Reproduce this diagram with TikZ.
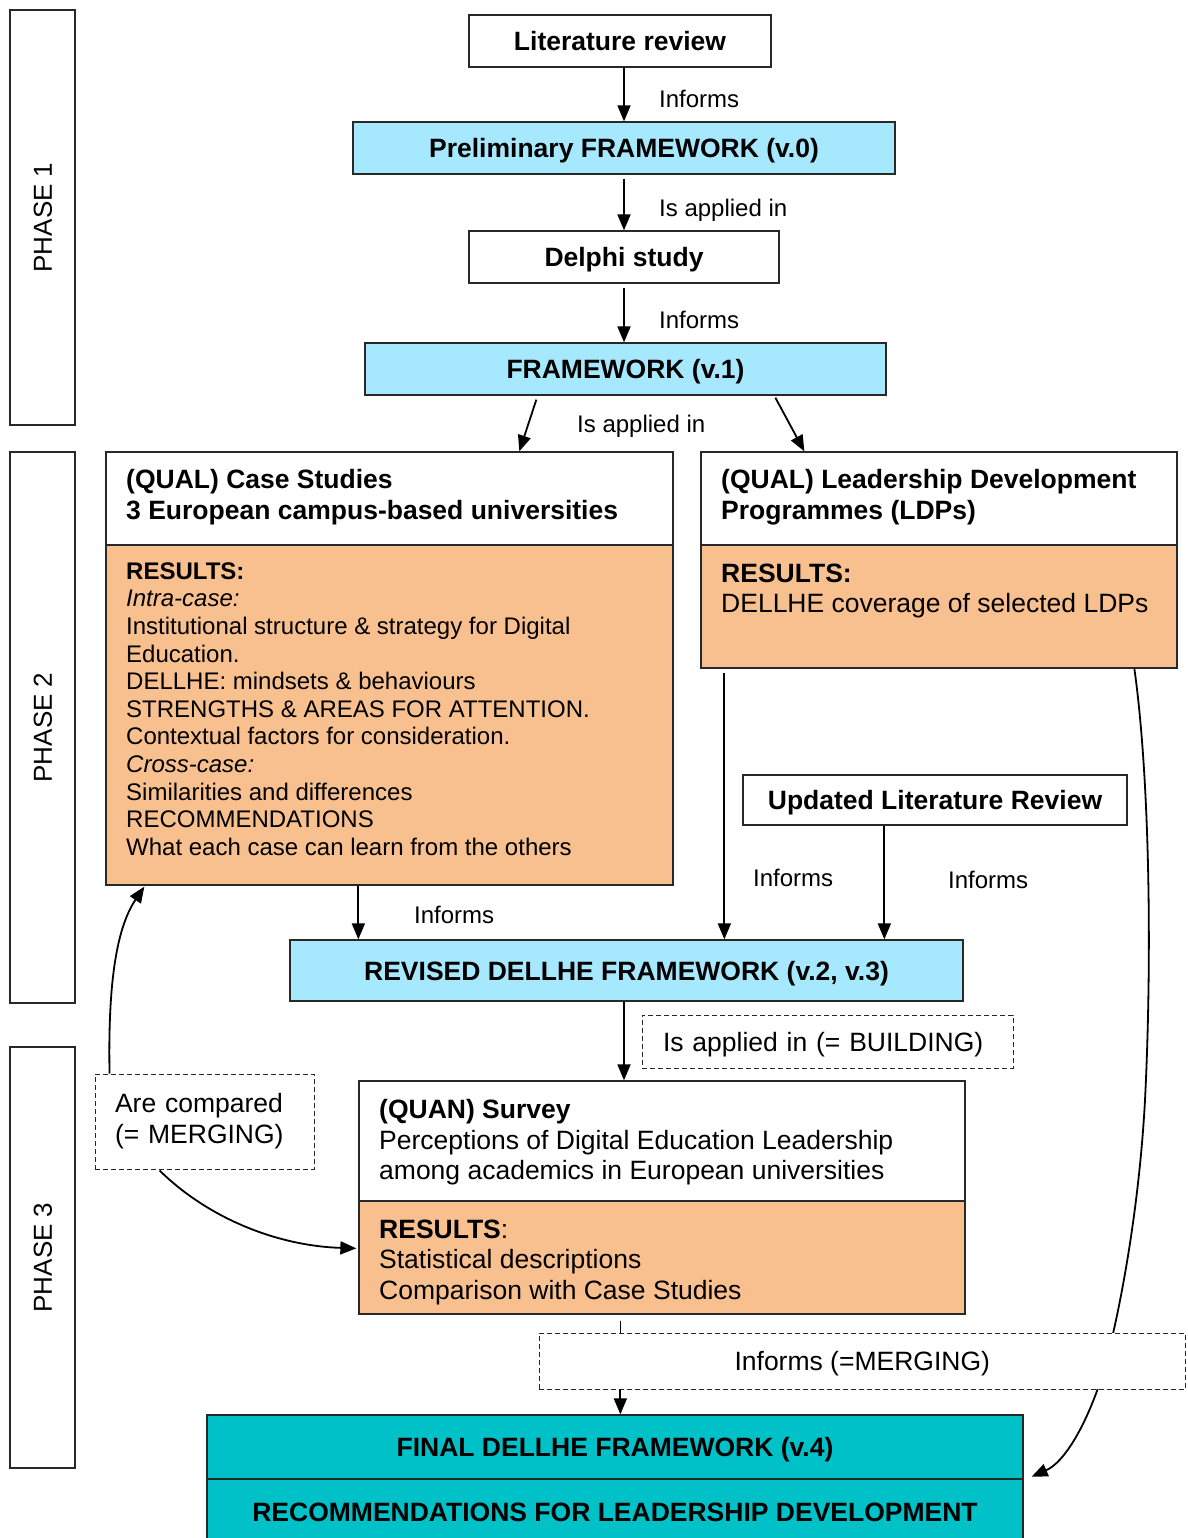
\documentclass[tikz,border=0pt]{standalone}
\usepackage{fontspec}
\setmainfont{Liberation Sans}
\usetikzlibrary{arrows.meta,calc}
\definecolor{fwblue}{RGB}{166,232,253}
\definecolor{resorange}{RGB}{249,192,143}
\definecolor{finalteal}{RGB}{0,193,200}
\definecolor{edgegray}{RGB}{40,40,40}

\begin{document}
\begin{tikzpicture}[x=1pt,y=-1pt,
  box/.style={draw=edgegray, line width=1.3pt, rectangle, inner sep=0pt,
    text height=19pt, text depth=0pt, font=\fontsize{26.5}{31}\selectfont\bfseries},
  plainbox/.style={draw=edgegray, line width=1.3pt, rectangle, inner sep=0pt},
  phasebox/.style={draw=edgegray, line width=1.3pt, rectangle, inner sep=0pt, rotate=90,
    minimum height=65pt, text height=18.6pt, text depth=0pt, font=\fontsize{26}{30}\selectfont},
  dashbox/.style={draw=black!85, line width=0.9pt, dash pattern=on 5pt off 3pt, fill=white, inner sep=0pt},
  txt/.style={inner sep=0pt, align=left, anchor=north west},
  lab/.style={inner sep=0pt, anchor=base west, font=\fontsize{24}{27.6}\selectfont},
  arr/.style={-{Triangle[length=16pt,width=13pt]}, line width=1.8pt},
  link/.style={line width=1pt}
]
\useasboundingbox (0,0) rectangle (1187,1538);
\clip (0,0) rectangle (1187,1538);

% phase bands
\node[phasebox, minimum width=415pt] (ph1) at (42.5,217.5) {PHASE 1};
\node[phasebox, minimum width=551pt] (ph2) at (42.5,727.5) {PHASE 2};
\node[phasebox, minimum width=421pt] (ph3) at (42.5,1257.5) {PHASE 3};

% phase 1 chain
\node[box, fill=white, minimum width=302pt, minimum height=52pt] (lit) at (620,41) {Literature review};
\node[box, fill=fwblue, minimum width=542pt, minimum height=52pt] (prelim) at (624,148) {Preliminary FRAMEWORK (v.0)};
\node[box, fill=white, minimum width=310pt, minimum height=52pt] (delphi) at (624,257) {Delphi study};
\node[box, fill=fwblue, minimum width=521pt, minimum height=52pt] (fw1) at (625.5,369) {FRAMEWORK (v.1)};

% case studies
\node[plainbox, fill=white, minimum width=567pt, minimum height=93pt] (casetop) at (389.5,498.5) {};
\node[plainbox, fill=resorange, minimum width=567pt, minimum height=340pt] (caseres) at (389.5,715) {};
\node[txt, font=\fontsize{26.5}{31}\selectfont\bfseries] (casehd) at (126,469.5)
  {(QUAL) Case Studies\\3 European campus-based universities};
\node[txt, font=\fontsize{24}{27.6}\selectfont] (casetx) at (126,562.4)
  {\textbf{RESULTS:}\\\textit{Intra-case:}\\Institutional structure \& strategy for Digital\\Education.\\DELLHE: mindsets \& behaviours\\STRENGTHS \& AREAS FOR ATTENTION.\\Contextual factors for consideration.\\\textit{Cross-case:}\\Similarities and differences\\RECOMMENDATIONS\\What each case can learn from the others};

% leadership development programmes
\node[plainbox, fill=white, minimum width=476pt, minimum height=93pt] (leadtop) at (939,498.5) {};
\node[plainbox, fill=resorange, minimum width=476pt, minimum height=123pt] (leadres) at (939,606.5) {};
\node[txt, font=\fontsize{26.5}{31}\selectfont\bfseries] (leadhd) at (721,469.5)
  {(QUAL) Leadership Development\\Programmes (LDPs)};
\node[txt, font=\fontsize{26.5}{30}\selectfont] (leadtx) at (721,563.5)
  {\textbf{RESULTS:}\\DELLHE coverage of selected LDPs};

% updated review and revised framework
\node[box, fill=white, minimum width=384pt, minimum height=50pt] (upd) at (935,800) {Updated Literature Review};
\node[box, fill=fwblue, minimum width=673pt, minimum height=61pt] (rev) at (626.5,970.5) {REVISED DELLHE FRAMEWORK (v.2, v.3)};

% survey
\node[plainbox, fill=white, minimum width=606pt, minimum height=120pt] (survtop) at (662,1141) {};
\node[plainbox, fill=resorange, minimum width=606pt, minimum height=113pt] (survres) at (662,1257.5) {};
\node[txt, font=\fontsize{26.5}{30.5}\selectfont] (survhd) at (379,1099.5)
  {\textbf{(QUAN) Survey}\\Perceptions of Digital Education Leadership\\among academics in European universities};
\node[txt, font=\fontsize{26.5}{30.5}\selectfont] (survtx) at (379,1219.5)
  {\textbf{RESULTS}:\\Statistical descriptions\\Comparison with Case Studies};

% final outcome
\node[box, fill=finalteal, minimum width=816pt, minimum height=64pt] (fintop) at (615,1447) {FINAL DELLHE FRAMEWORK (v.4)};
\node[box, fill=finalteal, minimum width=816pt, minimum height=66pt] (finbot) at (615,1512) {RECOMMENDATIONS FOR LEADERSHIP DEVELOPMENT};

% dashed annotation boxes
\node[dashbox, minimum width=371pt, minimum height=53pt, text width=329pt, inner xsep=21pt, align=left,
  font=\fontsize{26.5}{31}\selectfont, text height=19pt, text depth=0pt] (build) at (827.5,1041.5) {Is applied in (= BUILDING)};
\node[dashbox, minimum width=219pt, minimum height=95pt, text width=179pt, inner xsep=20pt, align=left,
  font=\fontsize{26.5}{31}\selectfont] (cmp) at (204.5,1121.5) {Are compared\\(= MERGING)};

% phase 1 connectors
\draw[arr] (prelim.north |- lit.south) -- (prelim.north);
\draw[arr] ($(prelim.south)+(0,4)$) -- (prelim.south |- delphi.north);
\draw[arr] ($(delphi.south)+(0,4)$) -- (delphi.south |- fw1.north);
\draw[arr] ($(fw1.south west)+(172,4)$) -- ($(casetop.north west)+(414,0)$);
\draw[arr] ($(fw1.south west)+(411,2)$) -- ($(leadtop.north west)+(104,0)$);

% phase 2 connectors
\coordinate (c1) at ($(caseres.south west)+(253,0)$);
\draw[arr] (c1) -- (c1 |- rev.north);
\coordinate (c2) at ($(leadres.south west)+(24,4)$);
\draw[arr] (c2) -- (c2 |- rev.north);
\coordinate (c3) at ($(upd.south west)+(142,0)$);
\draw[arr] (c3) -- (c3 |- rev.north);
\coordinate (c5) at ($(rev.south)+(-2.5,0)$);
\draw[arr] (c5) -- (c5 |- survtop.north);

% merging connectors
\draw[arr] ($(leadres.south west)+(434,0)$) .. controls (1150,780) and (1152,960) .. (1145,1100)
  .. controls (1138,1230) and (1112,1350) .. (1098,1388)
  .. controls (1085,1425) and (1065,1462) .. ($(fintop.south east)+(8,-3)$);
\draw[arr] ($(cmp.north west)+(15,0)$) .. controls (108,990) and (115,930) .. ($(caseres.south west)+(39,1)$);
\draw[arr] ($(cmp.south west)+(65,1)$) .. controls (210,1220) and (280,1246) .. ($(survres.north west)+(-2,48)$);

\node[dashbox, minimum width=646.5pt, minimum height=56pt, font=\fontsize{26.5}{31}\selectfont,
  text height=19pt, text depth=0pt] (merge) at (862.25,1361) {Informs (=MERGING)};
\coordinate (c4) at ($(survres.south west)+(262,6)$);
\draw[link] (c4) -- (c4 |- merge.north);
\draw[arr] (c4 |- merge.south) -- (c4 |- fintop.north);

% connector labels
\node[lab] (l1) at (659,107.6) {Informs};
\node[lab] (l2) at (659,216.6) {Is applied in};
\node[lab] (l3) at (659,328.6) {Informs};
\node[lab] (l4) at (577,432.6) {Is applied in};
\node[lab] (l5) at (753,886.6) {Informs};
\node[lab] (l6) at (948,888.6) {Informs};
\node[lab] (l7) at (414,923.6) {Informs};
\end{tikzpicture}
\end{document}
